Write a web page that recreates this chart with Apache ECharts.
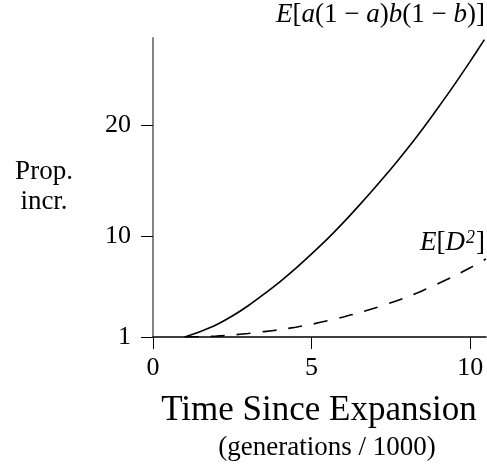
<!DOCTYPE html>
<html>
<head>
    <meta charset="utf-8">
    <title>Prop. incr.</title>
    <script src="https://cdn.jsdelivr.net/npm/echarts@6/dist/echarts.min.js"></script>
    <style>
        html, body { margin: 0; padding: 0; background: #fff; }
        #div1 { width: 487px; height: 467px; }
    </style>
</head>
<body>
    <div id="div1"></div>
    <script type="text/javascript">
        // time since expansion (generations / 1000)
        var timeAB = [1, 1.5, 2, 2.5, 3, 3.5, 4, 4.5, 5, 5.5, 6, 6.5, 7, 7.5, 8, 8.5, 9, 9.5, 10, 10.45];
        var valAB = [1.0, 1.5, 2.1, 2.88, 3.8, 4.85, 5.95, 7.15, 8.45, 9.8, 11.25, 12.8, 14.4, 16.05, 17.8, 19.65, 21.6, 23.6, 25.7, 27.65];
        var timeD2 = [1, 1.5, 2, 2.5, 3, 3.5, 4, 4.5, 5, 5.5, 6, 6.5, 7, 7.5, 8, 8.5, 9, 9.5, 10, 10.5];
        var valD2 = [1.0, 1.03, 1.08, 1.18, 1.32, 1.48, 1.66, 1.88, 2.14, 2.45, 2.8, 3.18, 3.6, 4.07, 4.58, 5.15, 5.8, 6.47, 7.2, 8.0];
        var xTicks = [0, 5, 10];
        var yTicks = [1, 10, 20];

        var serif = '"Liberation Serif", "DejaVu Serif", serif';

        function pairs(xs, ys) {
            var out = [];
            for (var i = 0; i < xs.length; i++) out.push([xs[i], ys[i]]);
            return out;
        }

        var myChart = echarts.init(document.getElementById('div1'), null, { renderer: 'canvas' });

        var mathRich = {
            i: { fontFamily: serif, fontStyle: 'italic', fontSize: 27, fill: '#000' },
            s: { fontFamily: serif, fontStyle: 'italic', fontSize: 18, fill: '#000', verticalAlign: 'top', padding: [0, 1, 10, 1] }
        };

        var option = {
            animation: false,
            backgroundColor: '#fff',
            grid: { left: 153, top: 38, width: 333, height: 299 },
            xAxis: {
                type: 'value',
                min: 0,
                max: 10.5,
                splitLine: { show: false },
                axisLine: { show: true, lineStyle: { color: '#000', width: 1.5 } },
                axisTick: { show: true, customValues: xTicks, length: 12, lineStyle: { color: '#000', width: 1 } },
                axisLabel: { customValues: xTicks, margin: 18, fontFamily: serif, fontSize: 26, color: '#000' }
            },
            yAxis: {
                type: 'value',
                min: 1,
                max: 27.8,
                splitLine: { show: false },
                axisLine: { show: true, lineStyle: { color: '#858585', width: 2 } },
                axisTick: { show: true, customValues: yTicks, length: 12, lineStyle: { color: '#000', width: 1 } },
                axisLabel: { customValues: yTicks, margin: 22, fontFamily: serif, fontSize: 26, color: '#000' }
            },
            series: [{
                name: 'ab',
                type: 'line',
                data: pairs(timeAB, valAB),
                smooth: 0.3,
                showSymbol: false,
                z: 1,
                lineStyle: { color: '#000', width: 1.6 }
            }, {
                name: 'D2',
                type: 'line',
                data: pairs(timeD2, valD2),
                smooth: 0.3,
                showSymbol: false,
                z: 1,
                lineStyle: { color: '#000', width: 1.6, type: [14, 12] }
            }],
            graphic: [{
                type: 'text',
                right: 2,
                top: 1,
                style: {
                    text: '{i|E}[{i|a}(1 − {i|a}){i|b}(1 − {i|b})]',
                    font: '27px ' + serif,
                    fill: '#000',
                    rich: mathRich
                }
            }, {
                type: 'text',
                right: 2,
                top: 229,
                style: {
                    text: '{i|E}[{i|D}{s|2}]',
                    font: '27px ' + serif,
                    fill: '#000',
                    rich: mathRich
                }
            }, {
                type: 'text',
                x: 44,
                y: 187,
                style: {
                    text: 'Prop.\nincr.',
                    font: '27px ' + serif,
                    fill: '#000',
                    align: 'center',
                    verticalAlign: 'middle',
                    lineHeight: 30
                }
            }, {
                type: 'text',
                x: 319,
                y: 411,
                style: {
                    text: 'Time Since Expansion',
                    font: '35px ' + serif,
                    fill: '#000',
                    align: 'center',
                    verticalAlign: 'middle'
                }
            }, {
                type: 'text',
                x: 327,
                y: 448,
                style: {
                    text: '(generations / 1000)',
                    font: '27px ' + serif,
                    fill: '#000',
                    align: 'center',
                    verticalAlign: 'middle'
                }
            }]
        };
        myChart.setOption(option);
    </script>
</body>
</html>
